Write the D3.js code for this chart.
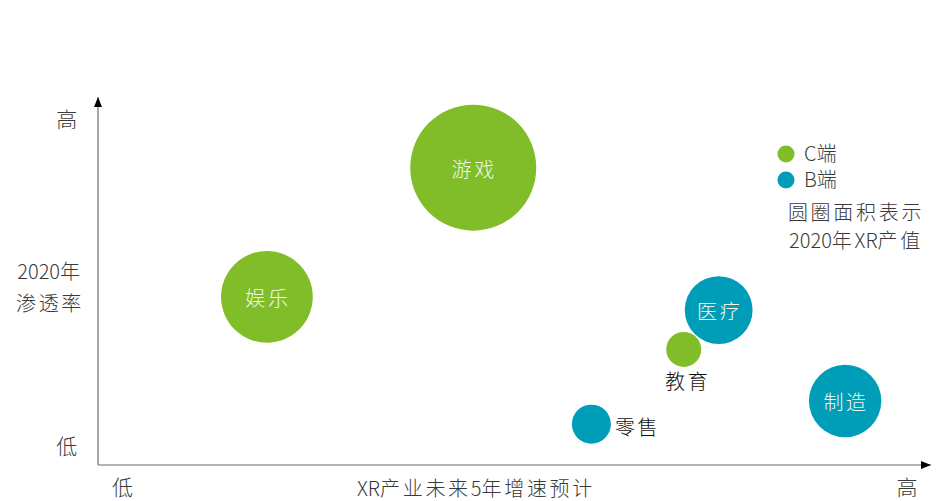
<!DOCTYPE html>
<html><head><meta charset="utf-8">
<script src="https://cdn.jsdelivr.net/npm/d3@7"></script>
<style>
html,body{margin:0;padding:0;background:#fff;}
text{font-family:"Noto Sans CJK SC","Noto Sans",sans-serif;font-weight:300;}
</style></head>
<body><svg id="chart" width="950" height="501"></svg>
<script>
// Data
const categories = ["游戏","娱乐","医疗","教育","零售","制造"];
const segment    = ["C","C","B","C","B","B"];          // C端 / B端
const growth     = [45.1, 20.3, 74.6, 70.4, 59.3, 89.8]; // XR产业未来5年增速预计 (relative)
const penetration= [80.8, 45.7, 42.1, 31.4, 11.1, 17.4]; // 2020年渗透率 (relative)
const output2020 = [100, 53, 29, 7.7, 9.6, 33];          // 2020年XR产值 (relative, area)
const labelInside= [true, true, true, false, false, true];
const xTickLabels = ["低","高"];
const xTickValues = [3.1, 97.4];
const yTickLabels = ["低","高"];
const yTickValues = [4.9, 93.8];
const legendLabels = ["C端","B端"];
const legendNote = ["圆圈面积表示","2020年XR产值"];
const yTitle = ["2020年","渗透率"];
const xTitle = "XR产业未来5年增速预计";

const colors = {C:"#80bd28", B:"#009db8"};
const CJK_LS = 2.7; // extra spacing for CJK glyphs
const svg = d3.select("#chart");
const x = d3.scaleLinear().domain([0,100]).range([98,930]);
const y = d3.scaleLinear().domain([0,100]).range([465,97]);
const r = d3.scaleSqrt().domain([0,100]).range([0,63]);

// writes a string into a text element, giving CJK runs extra letter spacing
function setText(sel, str){
  const runs = str.match(/[\u3000-\u9fff\uff00-\uffef]+|[^\u3000-\u9fff\uff00-\uffef]+/g) || [];
  runs.forEach(run=>{
    const cjk = /[\u3000-\u9fff\uff00-\uffef]/.test(run);
    sel.append("tspan").attr("letter-spacing", cjk ? CJK_LS : 0).text(run);
  });
  return sel;
}
function addText(parent, str, attrs){
  const t = parent.append("text");
  Object.entries(attrs).forEach(([k,v])=>t.attr(k,v));
  return setText(t, str);
}

// arrow marker
const defs = svg.append("defs");
defs.append("marker").attr("id","arr").attr("viewBox","0 0 10 10")
  .attr("refX",10).attr("refY",5).attr("markerWidth",10).attr("markerHeight",10)
  .attr("markerUnits","userSpaceOnUse").attr("orient","auto")
  .append("path").attr("d","M0,1 L10,5 L0,9 Z").attr("fill","#000");

svg.append("line").attr("x1",x(0)).attr("y1",y(0)).attr("x2",x(0)).attr("y2",y(100))
  .attr("stroke","#7a7a7a").attr("stroke-width",1.3).attr("marker-end","url(#arr)");
svg.append("line").attr("x1",x(0)).attr("y1",y(0)).attr("x2",x(100)+1).attr("y2",y(0))
  .attr("stroke","#9a9a9a").attr("stroke-width",1.3).attr("marker-end","url(#arr)");

// tick labels
yTickLabels.forEach((d,i)=>addText(svg,d,{x:68,y:y(yTickValues[i]),dy:"0.35em","text-anchor":"middle","font-size":21,fill:"#3a3a3a"}));
xTickLabels.forEach((d,i)=>addText(svg,d,{x:x(xTickValues[i]),y:488,dy:"0.35em","text-anchor":"middle","font-size":21,fill:"#3a3a3a"}));

// axis titles
addText(svg, xTitle, {x:476,y:489,dy:"0.35em","text-anchor":"middle","font-size":20,fill:"#3a3a3a"});
yTitle.forEach((d,i)=>addText(svg,d,{x:50,y:272+i*32,dy:"0.35em","text-anchor":"middle","font-size":20,fill:"#3a3a3a"}));

// bubbles
const idx = d3.range(categories.length);
svg.selectAll(".b").data(idx).join("circle")
  .attr("cx",i=>x(growth[i])).attr("cy",i=>y(penetration[i])).attr("r",i=>r(output2020[i]))
  .attr("fill",i=>colors[segment[i]]);

idx.filter(i=>labelInside[i]).forEach(i=>
  addText(svg, categories[i], {x:x(growth[i])+1,y:y(penetration[i])+2,dy:"0.35em","text-anchor":"middle","font-size":20,fill:"#f2f7ea"}));

// outside labels
const iEdu = categories.indexOf("教育"), iRet = categories.indexOf("零售");
addText(svg, categories[iEdu], {x:x(growth[iEdu])+4,y:y(penetration[iEdu])+r(output2020[iEdu])+15,dy:"0.35em","text-anchor":"middle","font-size":20,"font-weight":400,fill:"#111"});
addText(svg, categories[iRet], {x:x(growth[iRet])+r(output2020[iRet])+4,y:y(penetration[iRet])+4,dy:"0.35em","text-anchor":"start","font-size":20,"font-weight":400,fill:"#111"});

// legend
const lg = svg.append("g");
legendLabels.forEach((t,i)=>{
  lg.append("circle").attr("cx",786).attr("cy",154+i*26).attr("r",8.5).attr("fill",colors[i===0?"C":"B"]);
  addText(lg, t, {x:804,y:154+i*26,dy:"0.35em","font-size":20,fill:"#3a3a3a"});
});
legendNote.forEach((t,i)=>
  addText(lg, t, {x:856,y:213+i*28,dy:"0.35em","text-anchor":"middle","font-size":20,fill:"#3a3a3a"}));
</script></body></html>
